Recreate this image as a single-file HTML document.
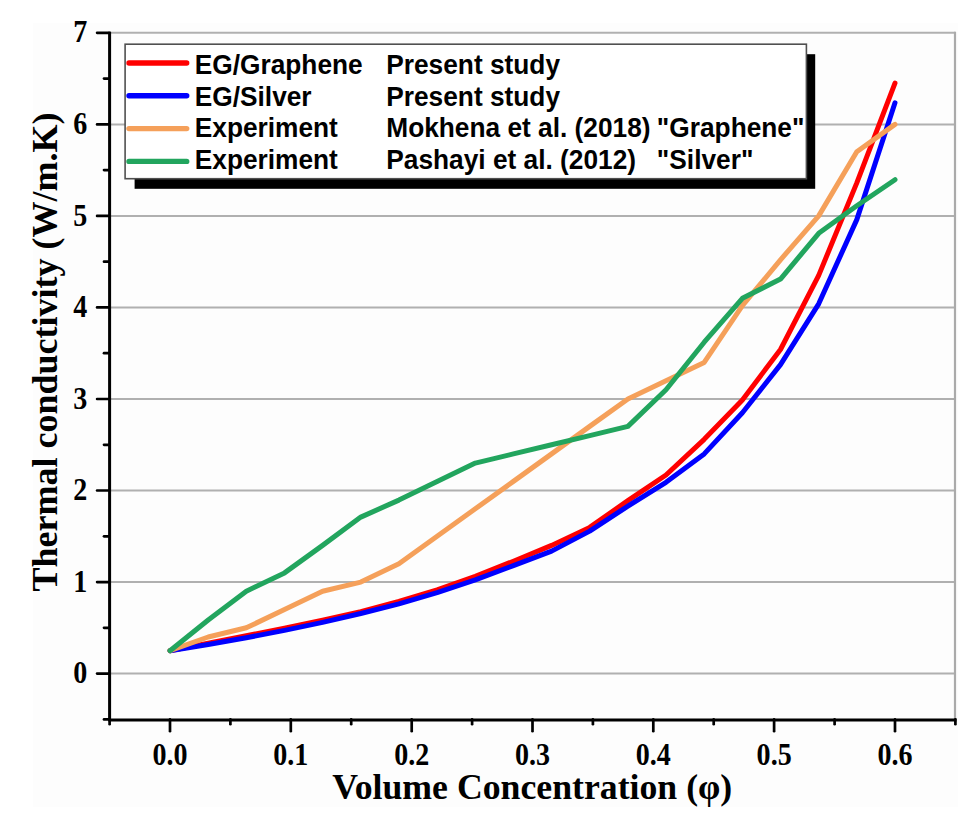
<!DOCTYPE html>
<html><head><meta charset="utf-8"><title>Thermal conductivity chart</title>
<style>
html,body{margin:0;padding:0;background:#fff;}
body{width:979px;height:821px;overflow:hidden;}
svg{display:block;}
.ser{font-family:"Liberation Serif",serif;font-weight:bold;fill:#000;}
.san{font-family:"Liberation Sans",sans-serif;font-weight:bold;fill:#000;}
</style></head><body>
<svg width="979" height="821" viewBox="0 0 979 821">
<rect x="0" y="0" width="979" height="821" fill="#fff"/>
<rect x="33" y="23" width="925" height="784" fill="#fdfdfd"/>

<line x1="110.6" y1="673.6" x2="955.4" y2="673.6" stroke="#b0b0b0" stroke-width="2.0"/>
<line x1="110.6" y1="582.1" x2="955.4" y2="582.1" stroke="#b0b0b0" stroke-width="2.0"/>
<line x1="110.6" y1="490.5" x2="955.4" y2="490.5" stroke="#b0b0b0" stroke-width="2.0"/>
<line x1="110.6" y1="399.0" x2="955.4" y2="399.0" stroke="#b0b0b0" stroke-width="2.0"/>
<line x1="110.6" y1="307.4" x2="955.4" y2="307.4" stroke="#b0b0b0" stroke-width="2.0"/>
<line x1="110.6" y1="215.9" x2="955.4" y2="215.9" stroke="#b0b0b0" stroke-width="2.0"/>
<line x1="110.6" y1="124.4" x2="955.4" y2="124.4" stroke="#b0b0b0" stroke-width="2.0"/>
<line x1="110.6" y1="32.8" x2="955.4" y2="32.8" stroke="#b0b0b0" stroke-width="2.0"/>
<line x1="955.0" y1="31.8" x2="955.0" y2="719.4" stroke="#aaaaaa" stroke-width="2.2"/>
<path d="M170.0,650.7 L208.2,643.1 L246.3,635.8 L284.5,628.3 L322.6,620.3 L360.8,611.6 L398.9,601.5 L437.1,589.8 L475.3,576.3 L513.4,561.2 L551.6,545.4 L589.7,527.4 L627.9,500.6 L666.0,475.0 L704.2,439.3 L742.4,399.9 L780.5,349.5 L818.7,275.4 L856.8,182.9 L895.0,83.2" fill="none" stroke="#ff0000" stroke-width="5" stroke-linejoin="round" stroke-linecap="round"/>
<path d="M170.0,650.7 L208.2,644.5 L246.3,637.7 L284.5,630.4 L322.6,622.4 L360.8,613.5 L398.9,603.8 L437.1,592.7 L475.3,579.8 L513.4,565.6 L551.6,551.1 L589.7,531.1 L627.9,506.1 L666.0,482.3 L704.2,453.9 L742.4,412.7 L780.5,364.6 L818.7,303.8 L856.8,219.6 L895.0,102.8" fill="none" stroke="#0000ff" stroke-width="5" stroke-linejoin="round" stroke-linecap="round"/>
<path d="M170.0,650.7 L208.2,637.0 L246.3,627.8 L284.5,609.5 L322.6,591.2 L360.8,582.1 L398.9,563.8 L437.1,536.3 L475.3,508.8 L513.4,481.4 L551.6,453.9 L589.7,426.4 L627.9,399.0 L666.0,380.7 L704.2,362.4 L742.4,305.6 L780.5,259.8 L818.7,215.9 L856.8,151.8 L895.0,124.4" fill="none" stroke="#f5a05a" stroke-width="5" stroke-linejoin="round" stroke-linecap="round"/>
<path d="M170.0,650.7 L208.2,620.0 L246.3,591.2 L284.5,572.9 L322.6,545.4 L360.8,517.1 L398.9,500.1 L437.1,481.4 L475.3,463.1 L513.4,453.9 L551.6,444.8 L589.7,435.6 L627.9,426.4 L666.0,389.8 L704.2,342.2 L742.4,298.3 L780.5,279.1 L818.7,233.3 L856.8,205.8 L895.0,179.7" fill="none" stroke="#22a55e" stroke-width="5" stroke-linejoin="round" stroke-linecap="round"/>
<line x1="109.6" y1="31.8" x2="109.6" y2="720.9" stroke="#000" stroke-width="3.0"/>
<line x1="108.3" y1="719.9" x2="956.4" y2="719.9" stroke="#000" stroke-width="3"/>
<line x1="104.0" y1="719.4" x2="109.6" y2="719.4" stroke="#000" stroke-width="2.7" stroke-linecap="round"/>
<line x1="97.1" y1="673.6" x2="109.6" y2="673.6" stroke="#000" stroke-width="2.7" stroke-linecap="round"/>
<line x1="104.0" y1="627.8" x2="109.6" y2="627.8" stroke="#000" stroke-width="2.7" stroke-linecap="round"/>
<line x1="97.1" y1="582.1" x2="109.6" y2="582.1" stroke="#000" stroke-width="2.7" stroke-linecap="round"/>
<line x1="104.0" y1="536.3" x2="109.6" y2="536.3" stroke="#000" stroke-width="2.7" stroke-linecap="round"/>
<line x1="97.1" y1="490.5" x2="109.6" y2="490.5" stroke="#000" stroke-width="2.7" stroke-linecap="round"/>
<line x1="104.0" y1="444.8" x2="109.6" y2="444.8" stroke="#000" stroke-width="2.7" stroke-linecap="round"/>
<line x1="97.1" y1="399.0" x2="109.6" y2="399.0" stroke="#000" stroke-width="2.7" stroke-linecap="round"/>
<line x1="104.0" y1="353.2" x2="109.6" y2="353.2" stroke="#000" stroke-width="2.7" stroke-linecap="round"/>
<line x1="97.1" y1="307.4" x2="109.6" y2="307.4" stroke="#000" stroke-width="2.7" stroke-linecap="round"/>
<line x1="104.0" y1="261.7" x2="109.6" y2="261.7" stroke="#000" stroke-width="2.7" stroke-linecap="round"/>
<line x1="97.1" y1="215.9" x2="109.6" y2="215.9" stroke="#000" stroke-width="2.7" stroke-linecap="round"/>
<line x1="104.0" y1="170.1" x2="109.6" y2="170.1" stroke="#000" stroke-width="2.7" stroke-linecap="round"/>
<line x1="97.1" y1="124.4" x2="109.6" y2="124.4" stroke="#000" stroke-width="2.7" stroke-linecap="round"/>
<line x1="104.0" y1="78.6" x2="109.6" y2="78.6" stroke="#000" stroke-width="2.7" stroke-linecap="round"/>
<line x1="97.1" y1="32.8" x2="109.6" y2="32.8" stroke="#000" stroke-width="2.7" stroke-linecap="round"/>
<line x1="109.6" y1="719.4" x2="109.6" y2="724.2" stroke="#000" stroke-width="2.7" stroke-linecap="round"/>
<line x1="170.0" y1="719.4" x2="170.0" y2="731.2" stroke="#000" stroke-width="2.7" stroke-linecap="round"/>
<line x1="230.4" y1="719.4" x2="230.4" y2="724.2" stroke="#000" stroke-width="2.7" stroke-linecap="round"/>
<line x1="290.8" y1="719.4" x2="290.8" y2="731.2" stroke="#000" stroke-width="2.7" stroke-linecap="round"/>
<line x1="351.2" y1="719.4" x2="351.2" y2="724.2" stroke="#000" stroke-width="2.7" stroke-linecap="round"/>
<line x1="411.7" y1="719.4" x2="411.7" y2="731.2" stroke="#000" stroke-width="2.7" stroke-linecap="round"/>
<line x1="472.1" y1="719.4" x2="472.1" y2="724.2" stroke="#000" stroke-width="2.7" stroke-linecap="round"/>
<line x1="532.5" y1="719.4" x2="532.5" y2="731.2" stroke="#000" stroke-width="2.7" stroke-linecap="round"/>
<line x1="592.9" y1="719.4" x2="592.9" y2="724.2" stroke="#000" stroke-width="2.7" stroke-linecap="round"/>
<line x1="653.3" y1="719.4" x2="653.3" y2="731.2" stroke="#000" stroke-width="2.7" stroke-linecap="round"/>
<line x1="713.7" y1="719.4" x2="713.7" y2="724.2" stroke="#000" stroke-width="2.7" stroke-linecap="round"/>
<line x1="774.1" y1="719.4" x2="774.1" y2="731.2" stroke="#000" stroke-width="2.7" stroke-linecap="round"/>
<line x1="834.6" y1="719.4" x2="834.6" y2="724.2" stroke="#000" stroke-width="2.7" stroke-linecap="round"/>
<line x1="895.0" y1="719.4" x2="895.0" y2="731.2" stroke="#000" stroke-width="2.7" stroke-linecap="round"/>
<line x1="955.4" y1="719.4" x2="955.4" y2="724.2" stroke="#000" stroke-width="2.7" stroke-linecap="round"/>
<text class="ser" transform="translate(87.3,683.20) scale(0.935,1.02)" font-size="30" text-anchor="end">0</text>
<text class="ser" transform="translate(87.3,591.66) scale(0.935,1.02)" font-size="30" text-anchor="end">1</text>
<text class="ser" transform="translate(87.3,500.12) scale(0.935,1.02)" font-size="30" text-anchor="end">2</text>
<text class="ser" transform="translate(87.3,408.58) scale(0.935,1.02)" font-size="30" text-anchor="end">3</text>
<text class="ser" transform="translate(87.3,317.04) scale(0.935,1.02)" font-size="30" text-anchor="end">4</text>
<text class="ser" transform="translate(87.3,225.50) scale(0.935,1.02)" font-size="30" text-anchor="end">5</text>
<text class="ser" transform="translate(87.3,133.96) scale(0.935,1.02)" font-size="30" text-anchor="end">6</text>
<text class="ser" transform="translate(87.3,42.42) scale(0.935,1.02)" font-size="30" text-anchor="end">7</text>
<text class="ser" transform="translate(170.00,765.4) scale(0.935,1.02)" font-size="30" text-anchor="middle">0.0</text>
<text class="ser" transform="translate(290.83,765.4) scale(0.935,1.02)" font-size="30" text-anchor="middle">0.1</text>
<text class="ser" transform="translate(411.66,765.4) scale(0.935,1.02)" font-size="30" text-anchor="middle">0.2</text>
<text class="ser" transform="translate(532.49,765.4) scale(0.935,1.02)" font-size="30" text-anchor="middle">0.3</text>
<text class="ser" transform="translate(653.32,765.4) scale(0.935,1.02)" font-size="30" text-anchor="middle">0.4</text>
<text class="ser" transform="translate(774.15,765.4) scale(0.935,1.02)" font-size="30" text-anchor="middle">0.5</text>
<text class="ser" transform="translate(894.98,765.4) scale(0.935,1.02)" font-size="30" text-anchor="middle">0.6</text>
<text class="ser" transform="translate(532.2,799.2) scale(0.993,1)" font-size="36" text-anchor="middle">Volume Concentration (φ)</text>
<text class="ser" transform="translate(56.5,352) rotate(-90)" x="0" y="0" font-size="36" text-anchor="middle">Thermal conductivity (W/m.K)</text>
<rect x="134.6" y="54.2" width="680.6" height="134.6" fill="#000"/>
<rect x="125.1" y="44.2" width="681.3" height="134.5" fill="#fff" stroke="#505050" stroke-width="1.6"/>
<line x1="129" y1="63.0" x2="186.7" y2="63.0" stroke="#ff0000" stroke-width="5.4" stroke-linecap="round"/>
<text class="san" transform="translate(194.74,74.00) scale(1,1.045)" font-size="26.3">EG/Graphene</text>
<text class="san" transform="translate(386.24,74.00) scale(1,1.045)" font-size="26.3">Present study</text>
<line x1="129" y1="95.8" x2="186.7" y2="95.8" stroke="#0000ff" stroke-width="5.4" stroke-linecap="round"/>
<text class="san" transform="translate(194.74,105.50) scale(1,1.045)" font-size="26.3">EG/Silver</text>
<text class="san" transform="translate(386.24,105.50) scale(1,1.045)" font-size="26.3">Present study</text>
<line x1="129" y1="128.6" x2="186.7" y2="128.6" stroke="#f5a05a" stroke-width="5.4" stroke-linecap="round"/>
<text class="san" transform="translate(194.74,137.00) scale(1,1.045)" font-size="26.3">Experiment</text>
<text class="san" transform="translate(386.24,137.00) scale(1,1.045)" font-size="26.3">Mokhena et al. (2018)</text>
<text class="san" transform="translate(656.86,137.00) scale(1,1.045)" font-size="26.3">"Graphene"</text>
<line x1="129" y1="161.4" x2="186.7" y2="161.4" stroke="#22a55e" stroke-width="5.4" stroke-linecap="round"/>
<text class="san" transform="translate(194.74,168.50) scale(1,1.045)" font-size="26.3">Experiment</text>
<text class="san" transform="translate(386.24,168.50) scale(1,1.045)" font-size="26.3">Pashayi et al. (2012)</text>
<text class="san" transform="translate(656.86,168.50) scale(1,1.045)" font-size="26.3">"Silver"</text>
</svg>
</body></html>
